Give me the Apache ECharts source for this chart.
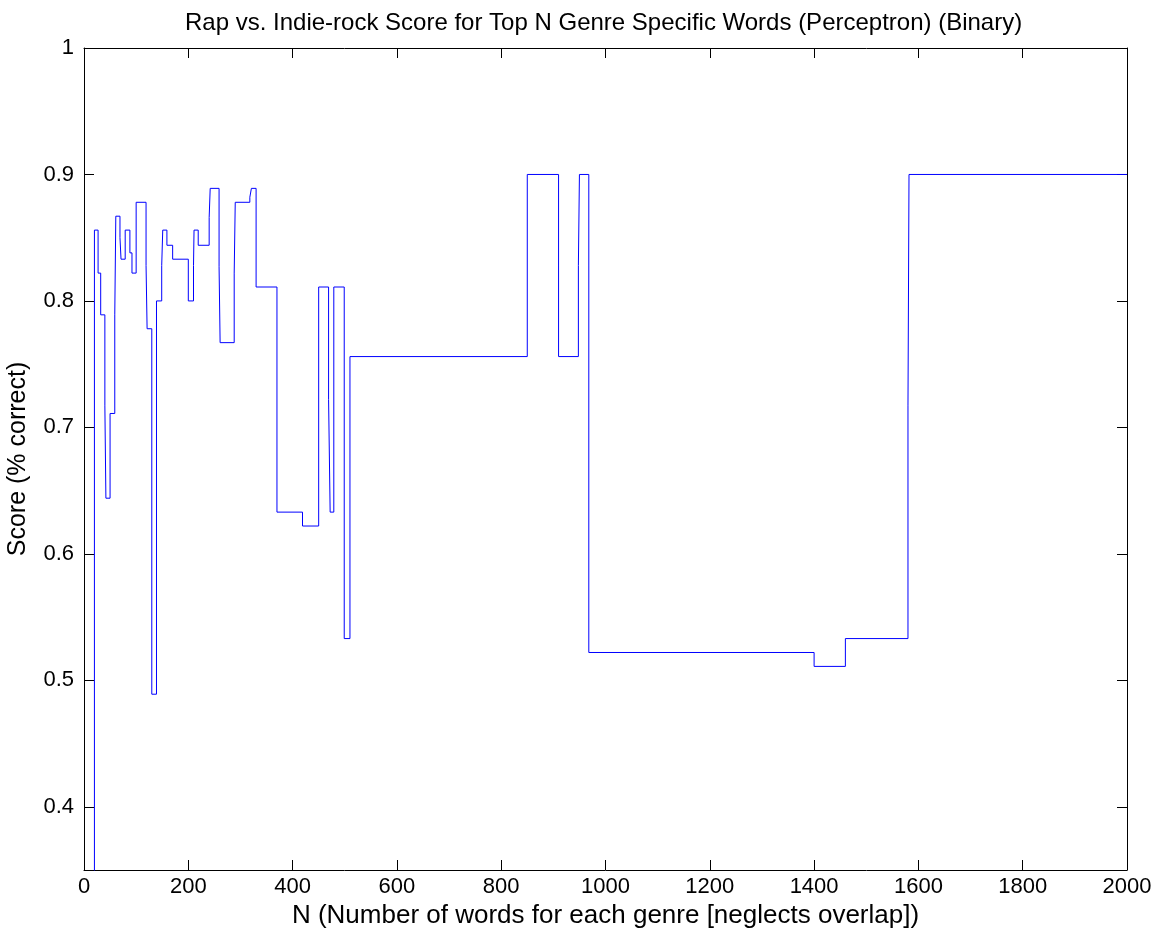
<!DOCTYPE html>
<html>
<head>
<meta charset="utf-8">
<script src="https://cdn.jsdelivr.net/npm/echarts@6/dist/echarts.min.js"></script>
<style>
  html, body { margin: 0; padding: 0; background: #fff; }
  #main { width: 1159px; height: 938px; }
</style>
</head>
<body>
<div id="main"></div>
<script>
// step points: score holds from n[i] until n[i+1]
var nWords = [10, 20, 27, 32, 40, 42, 50, 59, 61, 69, 71, 79, 88, 92, 100, 119, 121, 130, 139, 149,
    151, 159, 170, 200, 210, 211, 219, 240, 242, 259, 261, 288, 290, 318, 321, 330, 370, 419, 450, 469,
    472, 479, 499, 510, 850, 910, 948, 950, 968, 1400, 1460, 1580, 1582, 2000];
var scores = [0.30, 0.856, 0.822, 0.789, 0.717, 0.644, 0.711, 0.789, 0.867, 0.850, 0.833, 0.856, 0.838, 0.822, 0.878, 0.828, 0.778, 0.489, 0.800, 0.828,
    0.856, 0.844, 0.833, 0.800, 0.828, 0.856, 0.844, 0.866, 0.889, 0.827, 0.767, 0.822, 0.878, 0.882, 0.889, 0.811, 0.633, 0.622, 0.811, 0.722,
    0.633, 0.811, 0.533, 0.756, 0.900, 0.756, 0.828, 0.900, 0.522, 0.511, 0.533, 0.717, 0.900, 0.900];

var xTicks = [0, 200, 400, 600, 800, 1000, 1200, 1400, 1600, 1800, 2000];

var points = nWords.map(function (n, i) { return [n, scores[i]]; });

var font = 'Liberation Sans, Arial, sans-serif';
var tickStyle = { inside: true, length: 10, lineStyle: { color: '#000', width: 1 } };

var option = {
    animation: false,
    backgroundColor: '#fff',
    title: {
        text: 'Rap vs. Indie-rock Score for Top N Genre Specific Words (Perceptron) (Binary)',
        left: 180,
        top: 6,
        textStyle: { fontFamily: font, fontSize: 24, fontWeight: 'normal', color: '#000' }
    },
    grid: { left: 84, right: 32, top: 48, bottom: 68, outerBoundsMode: 'none', containLabel: false },
    xAxis: [{
        type: 'value',
        min: xTicks[0],
        max: xTicks[xTicks.length - 1],
        interval: 200,
        name: 'N (Number of words for each genre [neglects overlap])',
        nameLocation: 'middle',
        nameGap: 32,
        nameTextStyle: { fontFamily: font, fontSize: 26, color: '#000' },
        axisLine: { onZero: false, lineStyle: { color: '#000' } },
        axisTick: tickStyle,
        axisLabel: {
            fontFamily: font, fontSize: 22, color: '#000', margin: 6,
            formatter: function (v) { return String(v); }
        },
        splitLine: { show: false }
    }, {
        type: 'value',
        position: 'top',
        min: xTicks[0],
        max: xTicks[xTicks.length - 1],
        interval: 200,
        axisLine: { onZero: false, lineStyle: { color: '#000' } },
        axisTick: tickStyle,
        axisLabel: { show: false },
        splitLine: { show: false }
    }],
    yAxis: [{
        type: 'value',
        min: 0.35,
        max: 1,
        splitNumber: 6,
        name: 'Score (% correct)',
        nameLocation: 'middle',
        nameGap: 53,
        nameTextStyle: { fontFamily: font, fontSize: 25, color: '#000' },
        axisLine: { onZero: false, lineStyle: { color: '#000' } },
        axisTick: tickStyle,
        axisLabel: { fontFamily: font, fontSize: 22, color: '#000', margin: 10, showMinLabel: false },
        splitLine: { show: false }
    }, {
        type: 'value',
        position: 'right',
        min: 0.35,
        max: 1,
        splitNumber: 6,
        axisLine: { onZero: false, lineStyle: { color: '#000' } },
        axisTick: tickStyle,
        axisLabel: { show: false },
        splitLine: { show: false }
    }],
    series: [{
        type: 'line',
        step: 'end',
        data: points,
        showSymbol: false,
        clip: true,
        lineStyle: { color: '#0000ff', width: 1 },
        itemStyle: { color: '#0000ff' }
    }]
};

var myChart = echarts.init(document.getElementById('main'));
myChart.setOption(option);
</script>
</body>
</html>
